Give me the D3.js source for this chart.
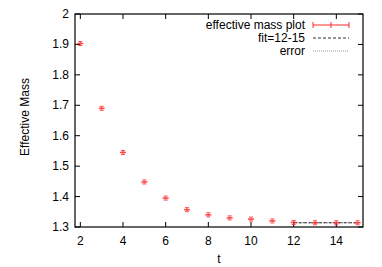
<!DOCTYPE html>
<html><head><meta charset="utf-8">
<script src="https://cdn.jsdelivr.net/npm/d3@7/dist/d3.min.js"></script>
<style>body{margin:0;background:#fff}svg{display:block}text{font-family:"Liberation Sans",Arial,sans-serif;font-size:12px;fill:#000}</style>
</head><body><svg id="c" width="382" height="267"></svg>
<script>
const tValues = [2,3,4,5,6,7,8,9,10,11,12,13,14,15];
const massValues = [1.903,1.690,1.545,1.448,1.395,1.357,1.340,1.330,1.326,1.320,1.315,1.314,1.314,1.314];
const errValues = [0.002,0.002,0.002,0.002,0.002,0.002,0.002,0.002,0.002,0.002,0.002,0.002,0.002,0.002];
const fitRange = [12,15];
const fitValue = 1.314;
const fitError = 0.0005;
const xTicks = [2,4,6,8,10,12,14];
const yTicks = [1.3,1.4,1.5,1.6,1.7,1.8,1.9,2.0];
const legendLabels = ["effective mass plot","fit=12-15","error"];

const svg = d3.select("#c");
const L=75, R=363, T=14, B=227;
const x = d3.scaleLinear().domain([1.75,15.25]).range([L,R]);
const y = d3.scaleLinear().domain([1.3,2.0]).range([B,T]);

const g = svg.append("g");
const tl = 5;
xTicks.forEach(v=>{
  g.append("line").attr("x1",x(v)).attr("x2",x(v)).attr("y1",B).attr("y2",B-tl).attr("stroke","#000");
  g.append("line").attr("x1",x(v)).attr("x2",x(v)).attr("y1",T).attr("y2",T+tl).attr("stroke","#000");
  g.append("text").attr("x",x(v)).attr("y",B+18).attr("text-anchor","middle").text(v);
});
yTicks.forEach(v=>{
  g.append("line").attr("x1",L).attr("x2",L+tl).attr("y1",y(v)).attr("y2",y(v)).attr("stroke","#000");
  g.append("line").attr("x1",R).attr("x2",R-tl).attr("y1",y(v)).attr("y2",y(v)).attr("stroke","#000");
  g.append("text").attr("x",L-6).attr("y",y(v)+4).attr("text-anchor","end").text(d3.format(v===2?"":".1f")(v));
});

const fx1=x(fitRange[0]), fx2=x(fitRange[1]);
g.append("line").attr("x1",fx1).attr("x2",fx2).attr("y1",y(fitValue+fitError)).attr("y2",y(fitValue+fitError)).attr("stroke","#888").attr("stroke-dasharray","1,2");
g.append("line").attr("x1",fx1).attr("x2",fx2).attr("y1",y(fitValue-fitError)).attr("y2",y(fitValue-fitError)).attr("stroke","#888").attr("stroke-dasharray","1,2");
g.append("line").attr("x1",fx1).attr("x2",fx2).attr("y1",y(fitValue)).attr("y2",y(fitValue)).attr("stroke","#333").attr("stroke-dasharray","3,2");

const red="#ff2a2a";
tValues.forEach((t,i)=>{
  const cx=x(t), cy=y(massValues[i]), e=errValues[i];
  const p=g.append("g").attr("stroke",red).attr("stroke-width",1.5).attr("opacity",0.85);
  p.append("line").attr("x1",cx-3).attr("x2",cx+3).attr("y1",cy).attr("y2",cy);
  p.append("line").attr("x1",cx).attr("x2",cx).attr("y1",y(massValues[i]-e)-2).attr("y2",y(massValues[i]+e)+2);
  p.append("line").attr("x1",cx-2).attr("x2",cx+2).attr("y1",cy-2).attr("y2",cy-2).attr("stroke-width",1);
  p.append("line").attr("x1",cx-2).attr("x2",cx+2).attr("y1",cy+2).attr("y2",cy+2).attr("stroke-width",1);
});

g.append("rect").attr("x",L).attr("y",T).attr("width",R-L).attr("height",B-T).attr("fill","none").attr("stroke","#000").attr("stroke-width",1.2);

const lx=305, sx1=313, sx2=349, ly=[25,38,51];
legendLabels.forEach((s,i)=>{
  g.append("text").attr("x",lx).attr("y",ly[i]+4).attr("text-anchor","end").text(s);
});
g.append("line").attr("x1",sx1).attr("x2",sx2).attr("y1",ly[0]).attr("y2",ly[0]).attr("stroke",red);
[sx1,(sx1+sx2)/2,sx2].forEach(v=>g.append("line").attr("x1",v).attr("x2",v).attr("y1",ly[0]-3).attr("y2",ly[0]+3).attr("stroke",red));
g.append("line").attr("x1",sx1).attr("x2",sx2).attr("y1",ly[1]).attr("y2",ly[1]).attr("stroke","#333").attr("stroke-dasharray","3,2");
g.append("line").attr("x1",sx1).attr("x2",sx2).attr("y1",ly[2]).attr("y2",ly[2]).attr("stroke","#999").attr("stroke-dasharray","1,1");

g.append("text").attr("x",(L+R)/2).attr("y",263).attr("text-anchor","middle").text("t");
g.append("text").attr("transform",`translate(29,117) rotate(-90)`).attr("text-anchor","middle").text("Effective Mass");
</script></body></html>
